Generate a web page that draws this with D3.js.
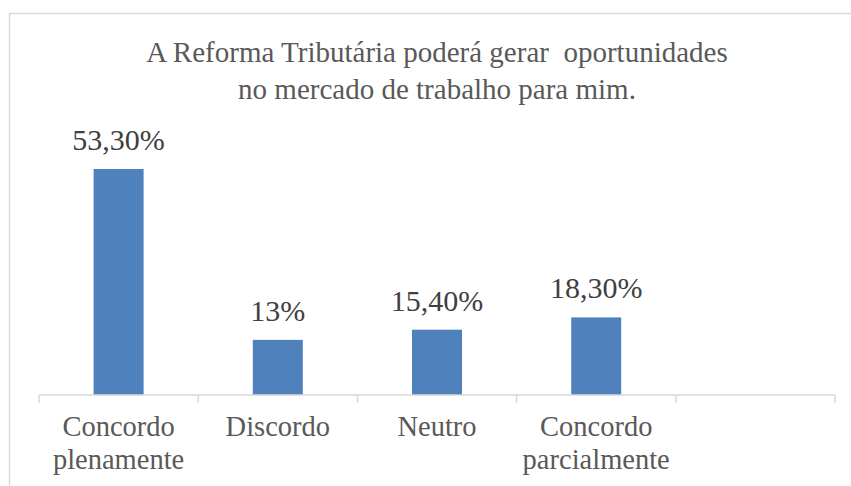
<!DOCTYPE html>
<html>
<head>
<meta charset="utf-8">
<script src="https://cdn.jsdelivr.net/npm/d3@7"></script>
<style>
  body { margin: 0; background: #fff; }
</style>
</head>
<body>
<div id="chart"></div>
<script>
// data
const categories = ["Concordo plenamente", "Discordo", "Neutro", "Concordo parcialmente", ""];
const values = [53.3, 13, 15.4, 18.3];
const valueLabels = ["53,30%", "13%", "15,40%", "18,30%"];
const titleLines = ["A Reforma Tributária poderá gerar  oportunidades", "no mercado de trabalho para mim."];

const plot = {left: 39, right: 835, top: 140.6, bottom: 395};
const serif = "'Liberation Serif'";

const svg = d3.select("#chart").append("svg")
    .attr("width", 851)
    .attr("height", 486);

// chart frame, only top and left edges are inside the crop
svg.append("path")
    .attr("d", "M9.5,490 V13.5 H860")
    .attr("fill", "none")
    .attr("stroke", "#d9d9d9")
    .attr("stroke-width", 1.5);

titleLines.forEach((l, i) => {
    svg.append("text")
        .attr("x", 437)
        .attr("y", 62 + i * 37)
        .attr("text-anchor", "middle")
        .attr("fill", "#595959")
        .attr("font-family", serif)
        .attr("font-size", 29)
        .text(l.replace("  ", " \u00a0"));
});

const x = d3.scaleBand()
    .domain(categories.map((c, i) => i))
    .range([plot.left, plot.right]);
const y = d3.scaleLinear()
    .domain([0, 60])
    .range([plot.bottom, plot.top]);

const barW = 50;

svg.selectAll("rect.bar")
    .data(values)
    .enter()
    .append("rect")
    .attr("class", "bar")
    .attr("x", (d, i) => x(i) + x.bandwidth() / 2 - barW / 2)
    .attr("y", d => y(d))
    .attr("width", barW)
    .attr("height", d => y(0) - y(d))
    .attr("fill", "#4f81bd");

svg.selectAll("text.val")
    .data(values)
    .enter()
    .append("text")
    .attr("class", "val")
    .attr("x", (d, i) => x(i) + x.bandwidth() / 2)
    .attr("y", d => y(d) - 19)
    .attr("text-anchor", "middle")
    .attr("fill", "#404040")
    .attr("font-family", serif)
    .attr("font-size", 30)
    .text((d, i) => valueLabels[i]);

// category axis
svg.append("line")
    .attr("x1", plot.left).attr("x2", plot.right)
    .attr("y1", plot.bottom).attr("y2", plot.bottom)
    .attr("stroke", "#d9d9d9").attr("stroke-width", 1.5);
svg.selectAll("line.tick")
    .data(d3.range(categories.length + 1))
    .enter()
    .append("line")
    .attr("class", "tick")
    .attr("x1", i => i < categories.length ? x(i) : plot.right)
    .attr("x2", i => i < categories.length ? x(i) : plot.right)
    .attr("y1", plot.bottom).attr("y2", plot.bottom + 8)
    .attr("stroke", "#d9d9d9").attr("stroke-width", 1.5);

// category labels, two lines where the words do not fit in the slot
const catLines = categories.map(c => c.split(" "));
const cats = svg.selectAll("text.cat")
    .data(catLines)
    .enter()
    .append("text")
    .attr("class", "cat")
    .attr("y", plot.bottom + 41)
    .attr("text-anchor", "middle")
    .attr("fill", "#595959")
    .attr("font-family", serif)
    .attr("font-size", 28.5);
cats.selectAll("tspan")
    .data((d, i) => d.map(w => ({w, i})))
    .enter()
    .append("tspan")
    .attr("x", d => x(d.i) + x.bandwidth() / 2)
    .attr("dy", (d, k) => k === 0 ? 0 : 33)
    .text(d => d.w);
</script>
</body>
</html>
